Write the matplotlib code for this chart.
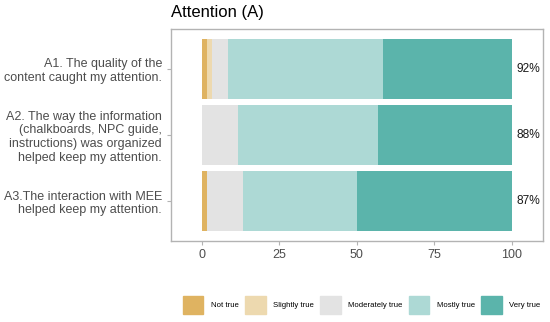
import matplotlib.pyplot as plt
import matplotlib.patches as mpatches
import numpy as np

plt.rcParams['font.family'] = ['Liberation Sans', 'DejaVu Sans']

# data (percent of respondents)
items = ['A1. The quality of the\ncontent caught my attention.',
         'A2. The way the information\n(chalkboards, NPC guide,\ninstructions) was organized\nhelped keep my attention.',
         'A3.The interaction with MEE\nhelped keep my attention.']
levels = ['Not true', 'Slightly true', 'Moderately true', 'Mostly true', 'Very true']
not_true = [1.67, 0.0, 1.67]
slightly_true = [1.67, 0.0, 0.0]
moderately_true = [5.0, 11.67, 11.67]
mostly_true = [50.0, 45.0, 36.67]
very_true = [41.67, 43.33, 50.0]
pct_labels = ['92%', '88%', '87%']

colors = ['#DFB361', '#EDD9AF', '#E3E3E3', '#ADD9D5', '#5BB4AB']

fig = plt.figure(figsize=(5.5, 3.22), dpi=100)
ax = fig.add_axes([0.311, 0.252, 0.676, 0.658])

ypos = np.arange(1, len(items) + 1)
series = [not_true, slightly_true, moderately_true, mostly_true, very_true]
left = np.zeros(len(items))
for vals, col, lab in zip(series, colors, levels):
    ax.barh(ypos, vals, left=left, height=0.9, color=col, label=lab, linewidth=0)
    left += np.array(vals)

for y, t in zip(ypos, pct_labels):
    ax.text(105.3, y, t, ha='center', va='center', fontsize=8.6, color='#1a1a1a')

ax.set_xlim(-10, 110)
ax.set_ylim(3.6, 0.4)
ax.set_xticks([0, 25, 50, 75, 100])
ax.set_yticks(ypos)
ax.set_yticklabels(items, fontsize=9, color='#4D4D4D', linespacing=1.2)
ax.tick_params(axis='x', labelsize=9, labelcolor='#4D4D4D', color='#B3B3B3', length=3, pad=3)
ax.tick_params(axis='y', color='#B3B3B3', length=3)
for s in ax.spines.values():
    s.set_color('#B3B3B3')
    s.set_linewidth(1.0)

fig.text(0.311, 0.962, 'Attention (A)', fontsize=12, ha='left', va='center', color='black')

handles = [mpatches.Patch(color=c, label=l) for c, l in zip(colors, levels)]
fig.legend(handles=handles, loc='center', bbox_to_anchor=(0.658, 0.052), ncol=5, frameon=False,
           fontsize=5.6, handlelength=2.6, handleheight=3.2, handletextpad=1.0,
           columnspacing=0.8, borderaxespad=0)

fig.savefig('out.png', dpi=100)
